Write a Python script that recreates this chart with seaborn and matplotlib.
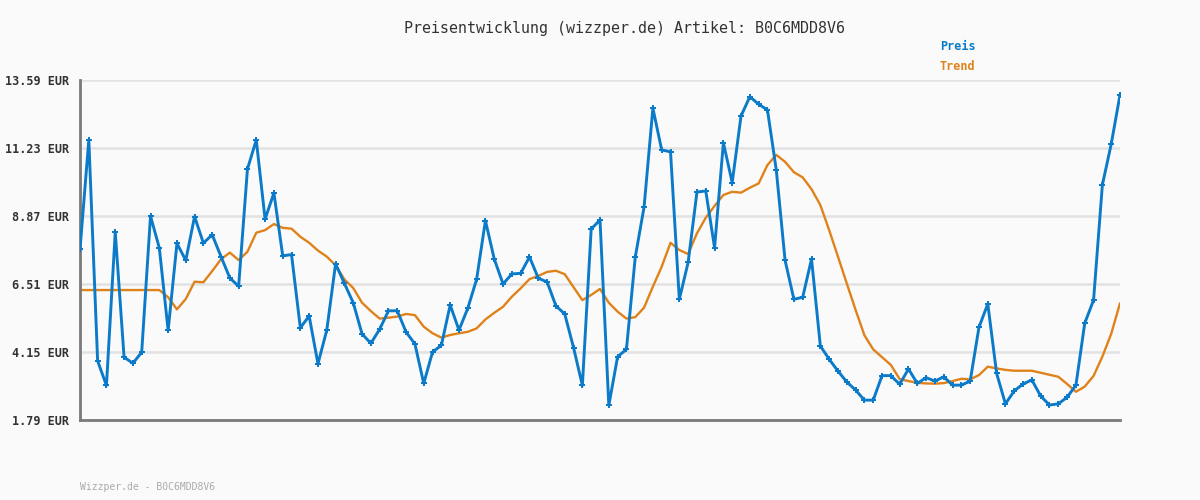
import pandas as pd
import matplotlib.pyplot as plt
import numpy as np
import seaborn as sns

# Preise (EUR)
preis = [7.71, 11.51, 3.84, 2.99, 8.31, 3.97, 3.76, 4.14, 8.87, 7.76,
         4.90, 7.92, 7.33, 8.85, 7.93, 8.22, 7.46, 6.72, 6.43, 10.50,
         11.51, 8.76, 9.67, 7.49, 7.53, 4.99, 5.40, 3.74, 4.91, 7.21,
         6.53, 5.86, 4.78, 4.45, 4.94, 5.58, 5.58, 4.84, 4.43, 3.06,
         4.15, 4.38, 5.78, 4.91, 5.67, 6.67, 8.71, 7.38, 6.51, 6.86,
         6.88, 7.45, 6.71, 6.58, 5.75, 5.47, 4.30, 2.99, 8.42, 8.73,
         2.30, 3.99, 4.24, 7.44, 9.18, 12.61, 11.16, 11.10, 5.98, 7.26,
         9.70, 9.74, 7.77, 11.41, 10.03, 12.34, 13.01, 12.75, 12.55, 10.47,
         7.33, 5.98, 6.05, 7.38, 4.36, 3.90, 3.49, 3.11, 2.83, 2.48,
         2.48, 3.33, 3.33, 3.03, 3.56, 3.06, 3.26, 3.14, 3.29, 3.00,
         3.00, 3.14, 5.01, 5.82, 3.41, 2.35, 2.80, 3.04, 3.18, 2.62,
         2.31, 2.35, 2.58, 3.00, 5.15, 5.95, 9.95, 11.36, 13.07]

trend = [6.30, 6.30, 6.30, 6.30, 6.30, 6.30, 6.30, 6.30, 6.30, 6.30,
         6.05, 5.63, 5.99, 6.59, 6.57, 6.96, 7.37, 7.60, 7.34, 7.63,
         8.29, 8.38, 8.59, 8.46, 8.43, 8.15, 7.94, 7.67, 7.46, 7.16,
         6.67, 6.37, 5.86, 5.57, 5.31, 5.34, 5.38, 5.47, 5.43, 5.03,
         4.80, 4.65, 4.74, 4.80, 4.85, 4.97, 5.28, 5.51, 5.72, 6.07,
         6.36, 6.68, 6.79, 6.93, 6.97, 6.85, 6.40, 5.95, 6.13, 6.34,
         5.86, 5.55, 5.31, 5.36, 5.69, 6.42, 7.11, 7.94, 7.69, 7.55,
         8.27, 8.81, 9.22, 9.60, 9.71, 9.68, 9.85, 10.00, 10.64, 10.99,
         10.75, 10.39, 10.21, 9.80, 9.25, 8.38, 7.46, 6.53, 5.61, 4.73,
         4.24, 3.97, 3.70, 3.21, 3.14, 3.08, 3.06, 3.05, 3.07, 3.14,
         3.22, 3.20, 3.35, 3.64, 3.58, 3.53, 3.50, 3.50, 3.50, 3.43,
         3.36, 3.29, 3.04, 2.77, 2.95, 3.32, 3.99, 4.78, 5.84]

y_ticks = [1.79, 4.15, 6.51, 8.87, 11.23, 13.59]
artikel = "B0C6MDD8V6"

blau = "#0b7bc9"
orange = "#e0821a"

df = pd.DataFrame({"tag": range(len(preis)), "preis": preis, "trend": trend})

sns.set_style("white")
plt.rcParams["font.family"] = ["DejaVu Sans Mono"]

fig = plt.figure(figsize=(12, 5), dpi=100, facecolor="#fafafa")
ax = fig.add_axes([80 / 1200, 80 / 500, 1040 / 1200, 340 / 500])
ax.set_facecolor("#fafafa")

sns.lineplot(data=df, x="tag", y="trend", color=orange, linewidth=1.7, ax=ax, zorder=2)
sns.lineplot(data=df, x="tag", y="preis", color=blau, linewidth=2.1, marker="P",
             markersize=4.5, markeredgewidth=0, ax=ax, zorder=3)

ax.set_xlim(0, len(preis) - 1)
ax.set_ylim(y_ticks[0], y_ticks[-1])
ax.set_yticks(y_ticks)
ax.set_yticklabels([f"{v:.2f} EUR" for v in y_ticks], fontsize=8.5,
                   fontweight="bold", color="#333333")
ax.set_xticks([])
ax.tick_params(axis="y", length=0, pad=8)
ax.set_xlabel("")
ax.set_ylabel("")
ax.grid(axis="y", color="#e2e2e2", linewidth=1.8)
ax.set_axisbelow(True)

for s in ["top", "right"]:
    ax.spines[s].set_visible(False)
for s in ["left", "bottom"]:
    ax.spines[s].set_color("#7a7a7a")
    ax.spines[s].set_linewidth(2)

fig.text(0.52, 1 - 28 / 500, f"Preisentwicklung (wizzper.de) Artikel: {artikel}",
         ha="center", va="center", fontsize=10.8, color="#333333")
fig.text(940 / 1200, 1 - 46 / 500, "Preis", ha="left", va="center",
         fontsize=8.5, fontweight="bold", color=blau)
fig.text(940 / 1200, 1 - 67 / 500, "Trend", ha="left", va="center",
         fontsize=8.5, fontweight="bold", color=orange)
fig.text(80 / 1200, 1 - 487 / 500, f"Wizzper.de - {artikel}", ha="left", va="center",
         fontsize=7, color="#aaaaaa")

plt.savefig("out.png", dpi=100, facecolor=fig.get_facecolor())
